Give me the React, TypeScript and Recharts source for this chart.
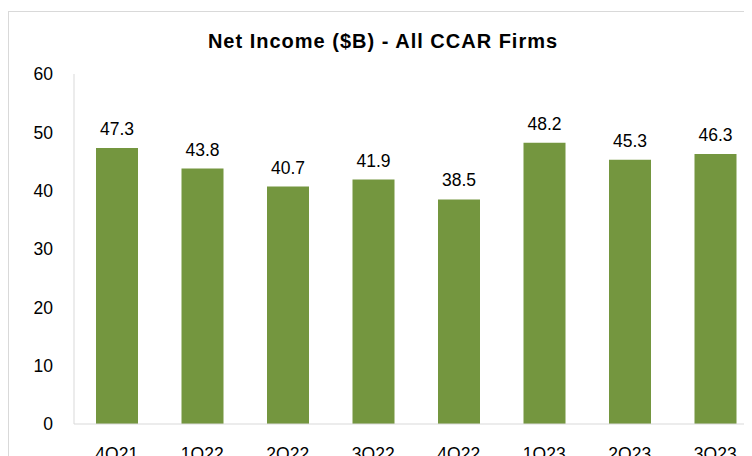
import React from 'react';
import { BarChart, Bar, XAxis, YAxis, LabelList } from 'recharts';

const quarters = ['4Q21', '1Q22', '2Q22', '3Q22', '4Q22', '1Q23', '2Q23', '3Q23'];
const netIncome = [47.3, 43.8, 40.7, 41.9, 38.5, 48.2, 45.3, 46.3];
const yTicks = [0, 10, 20, 30, 40, 50, 60];

const data = quarters.map((q, i) => ({ quarter: q, value: netIncome[i] }));

const FONT = '"Liberation Sans", Arial, sans-serif';
const tickStyle = { fontSize: 17.5, fill: '#000', fontFamily: FONT };

export default function App() {
  return (
    <div style={{ position: 'relative', width: 744, height: 448, overflow: 'hidden', fontFamily: FONT }}>
      {/* chart frame, right/bottom edges fall outside the picture */}
      <div
        style={{
          position: 'absolute',
          left: 0,
          top: 3,
          width: 800,
          height: 500,
          border: '1px solid #d9d9d9',
          boxSizing: 'border-box',
        }}
      />
      <div
        style={{
          position: 'absolute',
          left: 0,
          top: 23,
          width: 750,
          textAlign: 'center',
          fontSize: 20,
          lineHeight: '20px',
          fontWeight: 'bold',
          letterSpacing: 1,
          color: '#000',
        }}
      >
        Net Income ($B) - All CCAR Firms
      </div>
      <div style={{ position: 'absolute', left: 0, top: 0 }}>
        <BarChart
          width={780}
          height={470}
          data={data}
          margin={{ top: 66, right: 30, bottom: 0, left: 0 }}
        >
          <YAxis
            width={66}
            domain={[0, 60]}
            ticks={yTicks}
            interval={0}
            tickLine={false}
            tickSize={0}
            tickMargin={21}
            axisLine={{ stroke: '#d9d9d9' }}
            tick={tickStyle}
          />
          <XAxis
            dataKey="quarter"
            height={54}
            interval={0}
            tickLine={false}
            tickSize={0}
            tickMargin={24}
            axisLine={{ stroke: '#d9d9d9' }}
            tick={tickStyle}
          />
          <Bar dataKey="value" fill="#74963F" barSize={42} isAnimationActive={false}>
            <LabelList
              dataKey="value"
              position="top"
              offset={13}
              style={{ fontSize: 17.5, fill: '#000', fontFamily: FONT }}
            />
          </Bar>
        </BarChart>
      </div>
    </div>
  );
}
